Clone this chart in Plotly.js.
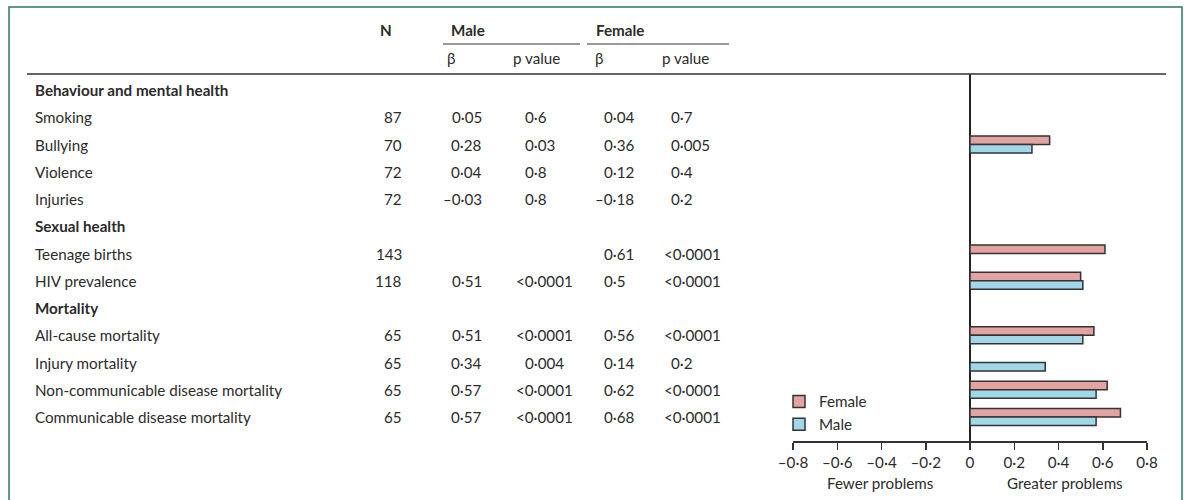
<!DOCTYPE html>
<html>
<head>
<meta charset="utf-8">
<script src="https://cdn.plot.ly/plotly-3.0.1.min.js"></script>
<style>html,body{margin:0;padding:0;background:#fff;}#chart{width:1184px;height:500px;}</style>
</head>
<body>
<div id="chart"></div>
<script>
// ---- data ----
const sections = ["Behaviour and mental health", "Sexual health", "Mortality"];
const rowSection = [0, 0, 0, 0, 1, 1, 2, 2, 2, 2];
const outcomes = ["Smoking", "Bullying", "Violence", "Injuries", "Teenage births", "HIV prevalence",
  "All-cause mortality", "Injury mortality", "Non-communicable disease mortality", "Communicable disease mortality"];
const nValues = [87, 70, 72, 72, 143, 118, 65, 65, 65, 65];
const maleBeta = [0.05, 0.28, 0.04, -0.03, null, 0.51, 0.51, 0.34, 0.57, 0.57];
const maleP = ["0·6", "0·03", "0·8", "0·8", "", "<0·0001", "<0·0001", "0·004", "<0·0001", "<0·0001"];
const femaleBeta = [0.04, 0.36, 0.12, -0.18, 0.61, 0.5, 0.56, 0.14, 0.62, 0.68];
const femaleP = ["0·7", "0·005", "0·4", "0·2", "<0·0001", "<0·0001", "<0·0001", "0·2", "<0·0001", "<0·0001"];
const tickVals = [-0.8, -0.6, -0.4, -0.2, 0, 0.2, 0.4, 0.6, 0.8];
const tickLabels = ["–0·8", "–0·6", "–0·4", "–0·2", "0", "0·2", "0·4", "0·6", "0·8"];
const axisLabels = ["Fewer problems", "Greater problems"];

// ---- helpers ----
const W = 1184, H = 500;
const px = x => x / W;
const py = y => 1 - y / H;
const FONT = "Lato, 'Open Sans', sans-serif";
const FS = 15.2;
const TXT = "#2b2b2b";
function fmtBeta(v) {
  if (v === null) return "";
  return (v < 0 ? "–" : "") + String(Math.abs(v)).replace(".", "·");
}
function pNum(s) { return s === "" ? 1 : parseFloat(s.replace("<", "").replace("·", ".")); }
function barVal(beta, p) { return (beta !== null && pNum(p) < 0.05) ? beta : null; }

// category order incl. section headings
const cats = [];
sections.forEach((s, si) => {
  cats.push(s);
  outcomes.forEach((o, i) => { if (rowSection[i] === si) cats.push(o); });
});

const femaleBars = femaleBeta.map((b, i) => barVal(b, femaleP[i]));
const maleBars = maleBeta.map((b, i) => barVal(b, maleP[i]));

const traces = [
  { type: "bar", orientation: "h", name: "Female", y: outcomes, x: femaleBars,
    marker: { color: "#e2a3a1", line: { color: "#333", width: 1.5 } }, hoverinfo: "x+name" },
  { type: "bar", orientation: "h", name: "Male", y: outcomes, x: maleBars,
    marker: { color: "#a2d7ea", line: { color: "#333", width: 1.5 } }, hoverinfo: "x+name" }
];

const ann = [];
function add(text, x, y, opts) {
  ann.push(Object.assign({ text: text, x: x, y: y, xref: "paper", yref: "y", showarrow: false,
    xanchor: "left", yanchor: "middle", font: { family: FONT, size: FS, color: TXT } }, opts || {}));
}
// section headings
sections.forEach(s => add("<b>" + s + "</b>", px(33), s));
// rows
outcomes.forEach((o, i) => {
  add(o, px(33), o);
  add(String(nValues[i]), px(404), o, { xanchor: "right" });
  if (maleBeta[i] !== null) add(fmtBeta(maleBeta[i]), px(484), o, { xanchor: "right" });
  if (maleP[i] !== "") add(maleP[i], px(maleP[i][0] === "<" ? 514 : 523), o);
  add(fmtBeta(femaleBeta[i]), px(femaleBeta[i] < 0 ? 593 : 602), o);
  add(femaleP[i], px(femaleP[i][0] === "<" ? 662 : 669), o);
});
// header
const hdr = (t, x, y, o) => add(t, px(x), py(y), Object.assign({ yref: "paper" }, o || {}));
hdr("<b>N</b>", 378, 30);
hdr("<b>Male</b>", 449, 30);
hdr("<b>Female</b>", 594, 30);
hdr("β", 445, 58);
hdr("p value", 511, 58);
hdr("β", 593, 58);
hdr("p value", 660, 58);
// axis side labels
hdr(axisLabels[0], 880, 483, { xanchor: "center" });
hdr(axisLabels[1], 1065, 483, { xanchor: "center" });

const shapes = [
  { type: "rect", xref: "paper", yref: "paper", x0: px(9), x1: px(1182), y0: py(505), y1: py(7),
    line: { color: "#2b7a55", width: 1.5 } },
  { type: "line", xref: "paper", yref: "paper", x0: px(27), x1: px(1166), y0: py(74), y1: py(74),
    line: { color: "#333", width: 1.5 } },
  { type: "line", xref: "paper", yref: "paper", x0: px(443), x1: px(580), y0: py(44), y1: py(44),
    line: { color: "#333", width: 1.2 } },
  { type: "line", xref: "paper", yref: "paper", x0: px(587), x1: px(729), y0: py(44), y1: py(44),
    line: { color: "#333", width: 1.2 } }
];

const layout = {
  width: W, height: H,
  margin: { l: 0, r: 0, t: 0, b: 0 },
  paper_bgcolor: "#fff", plot_bgcolor: "rgba(0,0,0,0)",
  barmode: "group", bargap: 0.376, bargroupgap: 0,
  showlegend: true,
  legend: { x: px(779), y: py(385), xanchor: "left", yanchor: "top", bgcolor: "rgba(0,0,0,0)",
    font: { family: FONT, size: FS, color: TXT }, tracegroupgap: 0, itemwidth: 30 },
  xaxis: { domain: [px(793), px(1147)], range: [-0.8, 0.8], showgrid: false,
    showline: true, linecolor: "#333", linewidth: 1.5,
    ticks: "outside", ticklen: 7, tickwidth: 1.5, tickcolor: "#333",
    tickvals: tickVals, ticktext: tickLabels,
    tickfont: { family: FONT, size: FS, color: TXT },
    zeroline: true, zerolinecolor: "#222", zerolinewidth: 1.5, fixedrange: true },
  yaxis: { type: "category", categoryorder: "array", categoryarray: cats,
    domain: [py(441), py(74)], range: [12.88, -0.587],
    showticklabels: false, showgrid: false, zeroline: false, showline: false, fixedrange: true },
  annotations: ann,
  shapes: shapes
};

Plotly.newPlot("chart", traces, layout, { displayModeBar: false, staticPlot: true });
</script>
</body>
</html>
